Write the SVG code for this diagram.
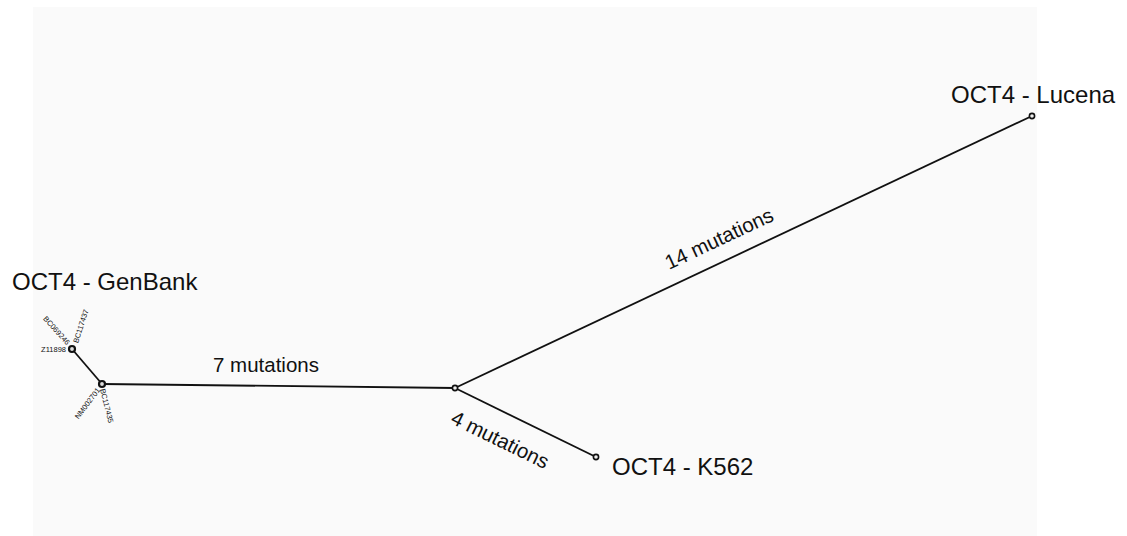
<svg xmlns="http://www.w3.org/2000/svg" width="1127" height="536" viewBox="0 0 1127 536">
<style>
.lbl{font-family:"Liberation Sans",Arial,sans-serif;font-size:24px;fill:#111}
.mut{font-family:"Liberation Sans",Arial,sans-serif;font-size:20.5px;fill:#111}
.tiny{font-family:"Liberation Sans",Arial,sans-serif;font-size:7.5px;fill:#111}
.edge{stroke:#111;stroke-width:1.8;fill:none}
.node{stroke:#111;stroke-width:1.6;fill:#eee}
.big{stroke:#111;stroke-width:2.2;fill:#ddd}
</style>
<rect x="0" y="0" width="1127" height="536" fill="#fff"/>
<rect x="33" y="7" width="1004" height="529" fill="#fafafa"/>
<g id="connectors">
<line class="edge" x1="72" y1="349" x2="102" y2="384"/>
<line class="edge" x1="102" y1="384" x2="455" y2="388"/>
<line class="edge" x1="455" y1="388" x2="1032" y2="116"/>
<line class="edge" x1="455" y1="388" x2="596" y2="457"/>
<text class="mut" x="266" y="372" text-anchor="middle">7 mutations</text>
<text class="mut" transform="translate(722,245) rotate(-25.2)" text-anchor="middle">14 mutations</text>
<text class="mut" transform="translate(497,446) rotate(26.1)" text-anchor="middle">4 mutations</text>
</g>
<g id="node-genbank-a">
<circle class="big" cx="72" cy="349" r="3"/>
<text class="tiny" x="66" y="352" text-anchor="end">Z11898</text>
<text class="tiny" transform="translate(68,344) rotate(48)" text-anchor="end" dy="2">BC069246</text>
<text class="tiny" transform="translate(76,343) rotate(-72)" dy="2">BC117437</text>
</g>
<g id="node-genbank-b">
<circle class="big" cx="102" cy="384" r="3"/>
<text class="tiny" transform="translate(99,389) rotate(-53)" text-anchor="end" dy="2">NM002701</text>
<text class="tiny" transform="translate(102,389) rotate(76)" dy="2">BC117435</text>
</g>
<g id="node-genbank-label">
<text class="lbl" x="12" y="290">OCT4 - GenBank</text>
</g>
<g id="node-center">
<circle class="node" cx="455" cy="388" r="2.6"/>
</g>
<g id="node-lucena">
<circle class="node" cx="1032" cy="116" r="2.6"/>
<text class="lbl" x="951" y="103">OCT4 - Lucena</text>
</g>
<g id="node-k562">
<circle class="node" cx="596" cy="457" r="2.6"/>
<text class="lbl" x="612" y="475">OCT4 - K562</text>
</g>
</svg>
